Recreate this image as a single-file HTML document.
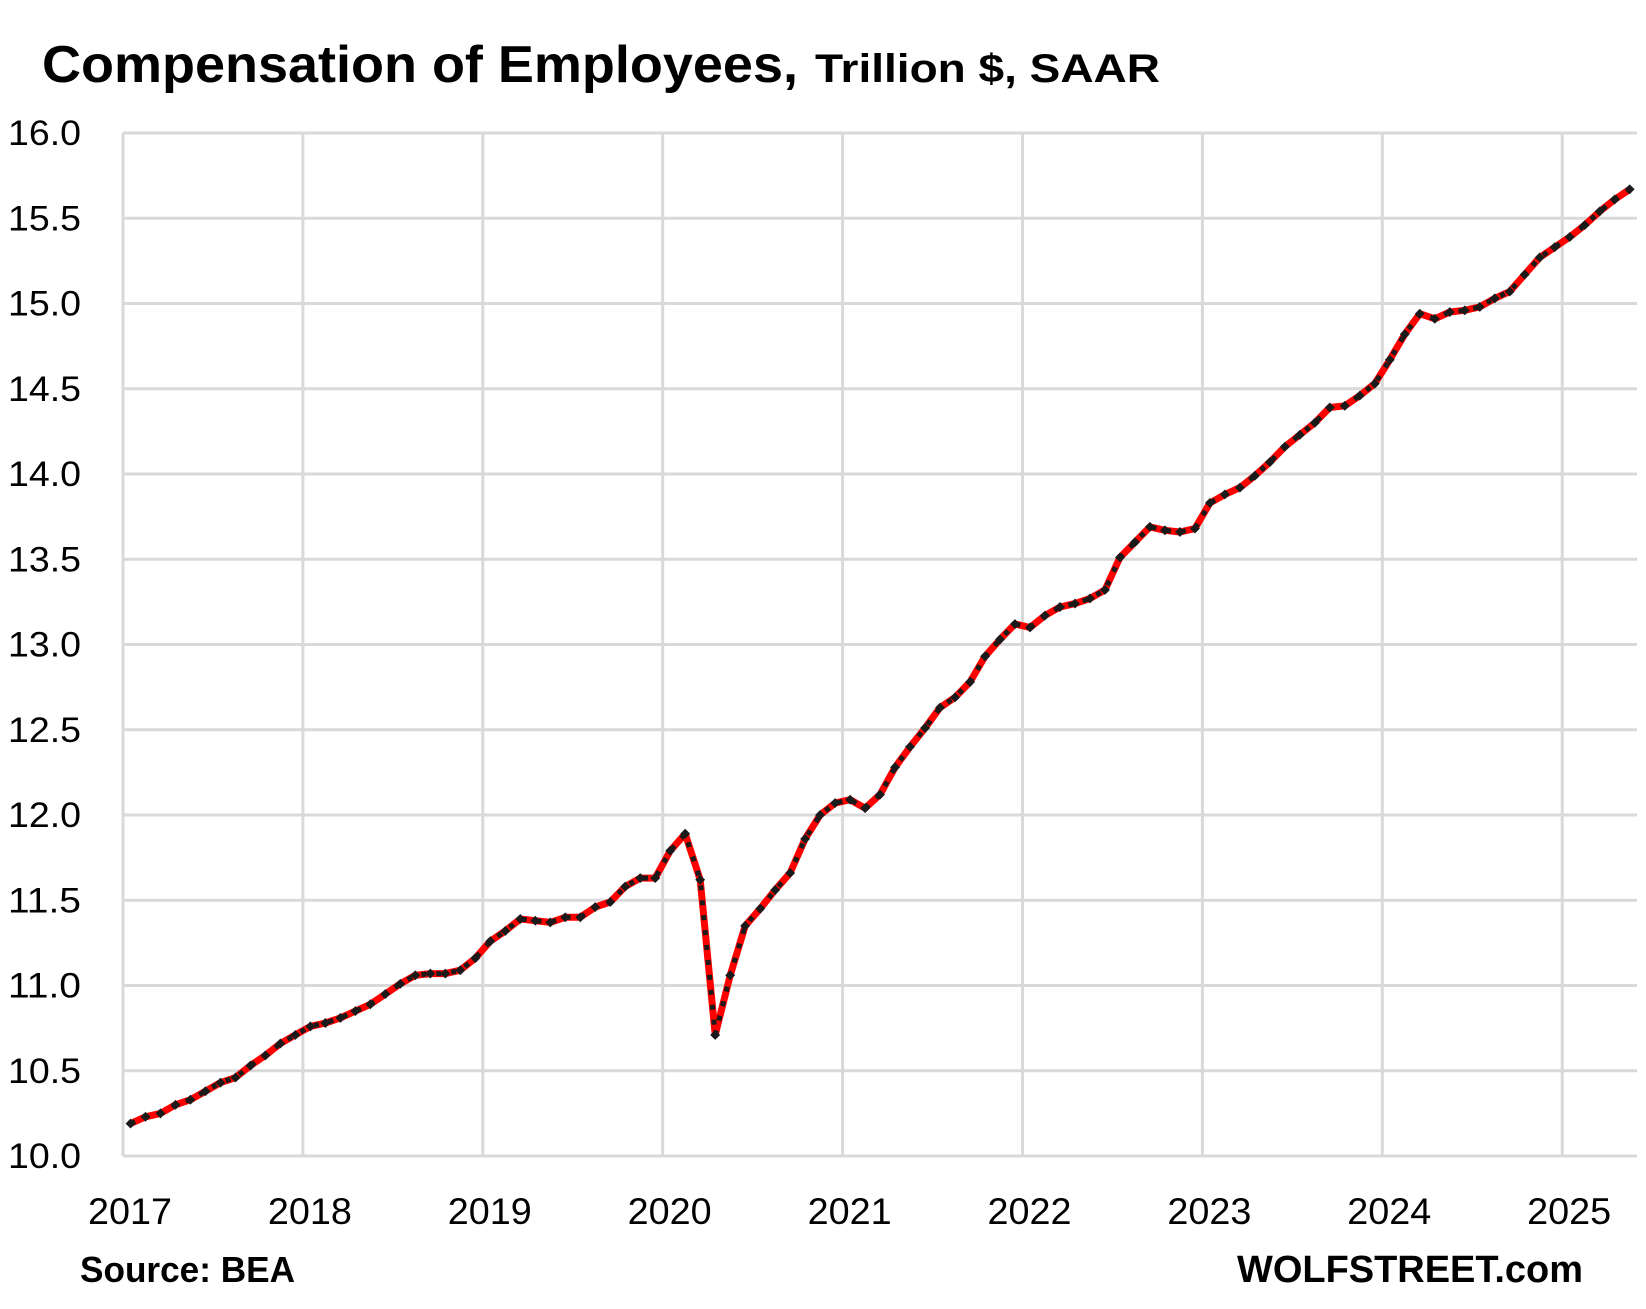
<!DOCTYPE html>
<html><head><meta charset="utf-8"><style>
html,body{margin:0;padding:0;background:#fff}
svg{display:block}
text{font-family:"Liberation Sans",sans-serif;fill:#000}
</style></head><body>
<svg id="c" width="1646" height="1309" xmlns="http://www.w3.org/2000/svg">
<text x="42" y="82" font-size="52" font-weight="bold" textLength="756" lengthAdjust="spacingAndGlyphs">Compensation of Employees,</text>
<text x="815" y="82" font-size="40" font-weight="bold" textLength="345" lengthAdjust="spacingAndGlyphs">Trillion $, SAAR</text>
<g id="grid" stroke="#d9d9d9" stroke-width="3"></g>
<g id="lab" font-size="35"></g>
<path id="red" fill="none" stroke="#ff0000" stroke-width="7" stroke-linejoin="round"/>
<path id="blk" fill="none" stroke="#1a1a1a" stroke-width="5" stroke-dasharray="5 10"/>
<g id="mk" fill="#1a1a1a"></g>
<text x="80" y="1282" font-size="36" font-weight="bold" textLength="215" lengthAdjust="spacingAndGlyphs">Source: BEA</text>
<text x="1237" y="1282" font-size="38" font-weight="bold" textLength="346" lengthAdjust="spacingAndGlyphs">WOLFSTREET.com</text>
</svg>
<script>
var NS="http://www.w3.org/2000/svg";
var L=123,R=1637,T=133,B=1156,yr=179.9;
function Y(v){return B-(v-10)*(B-T)/6;}
var g=document.getElementById('grid'),lab=document.getElementById('lab');
function el(p,tag,a,txt){var e=document.createElementNS(NS,tag);for(var k in a)e.setAttribute(k,a[k]);if(txt)e.textContent=txt;p.appendChild(e);return e;}
for(var i=0;i<=12;i++){var v=10+i*0.5,y=Y(v);el(g,'line',{x1:L,x2:R,y1:y,y2:y});
el(lab,'text',{x:8,y:y+12,textLength:73,lengthAdjust:'spacingAndGlyphs'},v.toFixed(1));}
for(var k=0;k<=8;k++){var x=L+k*yr;el(g,'line',{x1:x,x2:x,y1:T,y2:B});
el(lab,'text',{x:x-35,y:1224,'font-size':37,textLength:84,lengthAdjust:'spacingAndGlyphs'},String(2017+k));}
var d=[10.19,10.23,10.25,10.30,10.33,10.38,10.43,10.46,10.53,10.59,10.66,10.71,
10.76,10.78,10.81,10.85,10.89,10.95,11.01,11.06,11.07,11.07,11.09,11.16,
11.26,11.32,11.39,11.38,11.37,11.40,11.40,11.46,11.49,11.58,11.63,11.63,
11.79,11.89,11.62,10.71,11.06,11.35,11.45,11.56,11.66,11.86,12.00,12.07,
12.09,12.04,12.12,12.28,12.40,12.51,12.63,12.69,12.78,12.93,13.03,13.12,
13.10,13.17,13.22,13.24,13.27,13.32,13.51,13.60,13.69,13.67,13.66,13.68,
13.83,13.88,13.92,13.99,14.07,14.16,14.23,14.30,14.39,14.40,14.46,14.53,
14.67,14.82,14.94,14.91,14.95,14.96,14.98,15.03,15.07,15.17,15.27,15.33,
15.39,15.46,15.54,15.61,15.67];
var p='',mk=document.getElementById('mk');
d.forEach(function(v,i){var x=L+(i+0.5)*yr/12,y=Y(v);p+=(i?'L':'M')+x.toFixed(1)+' '+y.toFixed(1);
el(mk,'rect',{x:x-3.5,y:y-3.5,width:7,height:7,transform:'rotate(45 '+x+' '+y+')'});});
document.getElementById('red').setAttribute('d',p);
document.getElementById('blk').setAttribute('d',p);
</script>
</body></html>
